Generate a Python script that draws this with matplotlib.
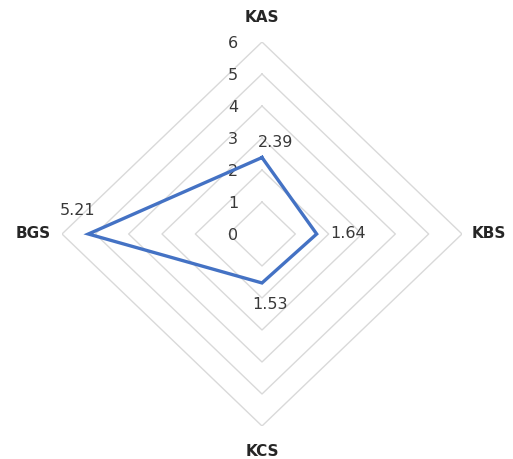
import numpy as np
import matplotlib
matplotlib.use("Agg")
import matplotlib.pyplot as plt

categories = ["KAS", "KBS", "KCS", "BGS"]
values = [2.39, 1.64, 1.53, 5.21]
ring_levels = [1, 2, 3, 4, 5, 6]
tick_labels = ["0", "1", "2", "3", "4", "5", "6"]

# clockwise from the top
angles = np.linspace(0, 2 * np.pi, len(categories), endpoint=False)

def to_xy(r, a):
    return r * np.sin(a), r * np.cos(a)

fig = plt.figure(figsize=(5.13, 4.59), dpi=100)
ax = fig.add_axes([62 / 513, 33 / 459, 400 / 513, 384 / 459])
ax.set_xlim(-6, 6)
ax.set_ylim(-6, 6)
ax.axis("off")

grid_color = "#d9d9d9"
for lvl in ring_levels:
    xs, ys = to_xy(np.full(len(angles) + 1, lvl), np.append(angles, angles[0]))
    ax.plot(xs, ys, color=grid_color, lw=1.0, zorder=1)

# radial scale labels along the top axis
for i, t in enumerate(tick_labels):
    ax.text(-0.72, i - 0.06, t, ha="right", va="center", fontsize=11.5, color="#383838", zorder=3)

# series polygon
xs, ys = to_xy(np.append(values, values[0]), np.append(angles, angles[0]))
ax.plot(xs, ys, color="#4472c4", lw=2.4, solid_joinstyle="miter", zorder=4)

# value labels
offsets = [(0.4, 0.47, "center", "center"),
           (0.4, 0.0, "left", "center"),
           (0.25, -0.45, "center", "top"),
           (-0.33, 0.72, "center", "center")]
for v, a, (dx, dy, ha, va) in zip(values, angles, offsets):
    x, y = to_xy(v, a)
    ax.text(x + dx, y + dy, f"{v:.2f}", ha=ha, va=va, fontsize=11.5, color="#383838", zorder=5)

# category labels
cat_pos = [(0, 6.75, "center", "center"),
           (6.8, 0, "center", "center"),
           (0, -6.8, "center", "center"),
           (-6.85, 0, "center", "center")]
for name, (x, y, ha, va) in zip(categories, cat_pos):
    ax.text(x, y, name, ha=ha, va=va, fontsize=11, fontweight="bold", color="#262626",
            clip_on=False)

fig.savefig("out.png", dpi=100, facecolor="white")
